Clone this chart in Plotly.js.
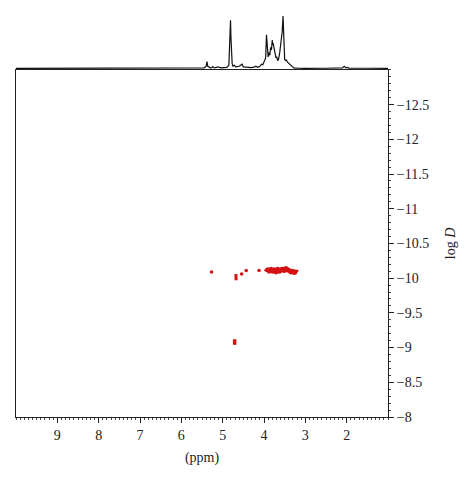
<!DOCTYPE html>
<html>
<head>
<meta charset="utf-8">
<script src="https://cdn.plot.ly/plotly-3.0.1.min.js"></script>
<style>html,body{margin:0;padding:0;background:#fff;}#chart{width:474px;height:481px;}</style>
</head>
<body>
<div id="chart"></div>
<script>
// 1D 1H spectrum (projection on top): chemical shift (ppm) and relative intensity
const specPpm = [10.0, 9.0, 8.0, 7.0, 6.0, 5.6, 5.45, 5.40, 5.38, 5.36, 5.30, 5.26, 5.24, 5.20, 5.13, 5.11, 5.05,
  4.90, 4.85, 4.82, 4.81, 4.80, 4.78, 4.77, 4.75, 4.72, 4.68, 4.60, 4.55, 4.53, 4.50, 4.40, 4.30, 4.22, 4.20,
  4.15, 4.10, 4.06, 4.03, 4.00, 3.96, 3.94, 3.93, 3.92, 3.90, 3.88, 3.86, 3.84, 3.82, 3.80, 3.79, 3.78, 3.76,
  3.75, 3.73, 3.71, 3.69, 3.67, 3.65, 3.62, 3.60, 3.58, 3.56, 3.54, 3.53, 3.52, 3.50, 3.48, 3.46, 3.43, 3.40,
  3.37, 3.33, 3.28, 3.20, 3.00, 2.5, 2.10, 2.06, 2.02, 1.98, 1.95, 1.5, 1.0];
const specInt = [0.0, 0.0, 0.005, 0.0, 0.005, 0.005, 0.01, 0.04, 0.13, 0.04, 0.01, 0.015, 0.035, 0.01, 0.015, 0.03, 0.01,
  0.02, 0.06, 0.6, 0.92, 0.6, 0.12, 0.09, 0.04, 0.06, 0.03, 0.04, 0.07, 0.08, 0.03, 0.02, 0.015, 0.03, 0.04,
  0.02, 0.04, 0.08, 0.07, 0.12, 0.2, 0.64, 0.5, 0.3, 0.22, 0.3, 0.25, 0.4, 0.35, 0.54, 0.45, 0.48, 0.4,
  0.3, 0.28, 0.2, 0.22, 0.15, 0.17, 0.3, 0.45, 0.48, 0.7, 1.0, 0.75, 0.3, 0.17, 0.15, 0.16, 0.12, 0.1,
  0.08, 0.04, 0.01, 0.005, 0.0, 0.003, 0.01, 0.04, 0.01, 0.02, 0.005, 0.003, 0.0];

// DOSY cross peaks (ppm, log D)
const dotPpm = [5.27, 4.54, 4.43, 4.12];
const dotLogD = [-10.09, -10.06, -10.11, -10.11];
const chainPpm = [3.95, 3.91, 3.87, 3.83, 3.79, 3.75, 3.71, 3.67, 3.63, 3.59, 3.55, 3.51, 3.47, 3.43, 3.39, 3.35, 3.31, 3.27, 3.23, 3.19];
const chainLogD = [-10.09, -10.12, -10.10, -10.13, -10.10, -10.12, -10.09, -10.13, -10.10, -10.12, -10.13, -10.11, -10.14, -10.12, -10.11, -10.09, -10.10, -10.08, -10.09, -10.08];
const streakAPpm = [4.68, 4.68, 4.675];
const streakALogD = [-10.06, -10.01, -9.97];
const streakBPpm = [4.71, 4.71, 4.71];
const streakBLogD = [-9.12, -9.08, -9.04];

// axis ticks
const xTicks = [9, 8, 7, 6, 5, 4, 3, 2];
const yTicks = [-12.5, -12, -11.5, -11, -10.5, -10, -9.5, -9, -8.5, -8];

const red = 'rgb(212,18,18)';
const serif = 'Liberation Serif, Times New Roman, serif';

const traces = [
  {x: specPpm, y: specInt, xaxis: 'x', yaxis: 'y2', mode: 'lines', line: {color: '#111', width: 1.2}, hoverinfo: 'skip'},
  {x: chainPpm, y: chainLogD, mode: 'lines', line: {color: red, width: 5, shape: 'spline'}},
  {x: dotPpm, y: dotLogD, mode: 'markers', marker: {color: red, size: 3.5}},
  {x: streakAPpm, y: streakALogD, mode: 'lines', line: {color: red, width: 3}},
  {x: streakBPpm, y: streakBLogD, mode: 'lines', line: {color: red, width: 3.5}}
];

const layout = {
  width: 474, height: 481,
  margin: {l: 16, r: 86, t: 12, b: 64},
  paper_bgcolor: '#fff', plot_bgcolor: '#fff',
  showlegend: false,
  font: {family: serif, size: 14, color: '#222'},
  xaxis: {
    range: [10, 1], anchor: 'y',
    showline: true, mirror: true, linecolor: '#222', linewidth: 1,
    ticks: 'outside', ticklen: 5, tickcolor: '#222',
    tickvals: xTicks, ticktext: xTicks.map(String),
    tickfont: {family: serif, size: 14, color: '#222'},
    minor: {dtick: 0.1, tick0: 0, ticks: 'outside', ticklen: 2, tickcolor: '#444'},
    showgrid: false, zeroline: false,
    title: {text: '(ppm)', font: {family: serif, size: 14, color: '#222'}, standoff: 10}
  },
  yaxis: {
    domain: [0, 0.857], range: [-8, -13], side: 'right', anchor: 'x',
    showline: true, mirror: true, linecolor: '#222', linewidth: 1,
    ticks: 'outside', ticklen: 5, tickcolor: '#222',
    tickvals: yTicks, ticktext: yTicks.map(v => '\u2212' + Math.abs(v)),
    tickfont: {family: serif, size: 14, color: '#222'},
    minor: {dtick: 0.1, tick0: 0, ticks: 'outside', ticklen: 2, tickcolor: '#444'},
    showgrid: false, zeroline: false,
    title: {text: 'log <i>D</i>', font: {family: serif, size: 14, color: '#222'}, standoff: 16}
  },
  yaxis2: {
    domain: [0.857, 1], range: [-0.029, 1.076], anchor: 'x',
    visible: false, showgrid: false, zeroline: false
  }
};

Plotly.newPlot('chart', traces, layout, {staticPlot: true, displayModeBar: false});
</script>
</body>
</html>
